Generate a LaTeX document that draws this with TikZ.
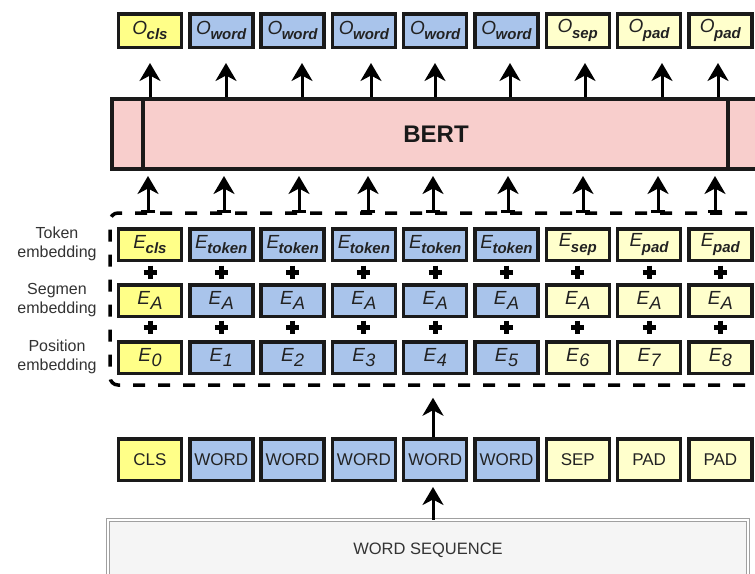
\documentclass[tikz,border=0pt]{standalone}
\usepackage{fontspec}
\setmainfont{Liberation Sans}
\usetikzlibrary{arrows.meta}
\definecolor{clsY}{HTML}{FFFF88}
\definecolor{wordB}{HTML}{A9C4EB}
\definecolor{padY}{HTML}{FFFFCC}
\definecolor{bertP}{HTML}{F8CECC}
\definecolor{seqF}{HTML}{F5F5F5}
\definecolor{seqD}{HTML}{A0A0A0}
\definecolor{txt}{HTML}{222222}
\definecolor{labc}{HTML}{333333}
\definecolor{boxK}{HTML}{1A1A1A}
\newcommand{\msz}{\fontsize{19}{20}\selectfont}
\newcommand{\Lsub}[2]{{\msz\itshape #1}\kern-0.5pt\raisebox{-5.5pt}{\fontsize{15}{15}\selectfont\bfseries\itshape #2}}
\newcommand{\Lnum}[2]{{\msz\itshape #1}\kern0.5pt\raisebox{-5.5pt}{\fontsize{18}{18}\selectfont\itshape #2}}
\begin{document}
\begin{tikzpicture}[x=1pt,y=-1pt,
  cbox/.style={draw=boxK, line width=3.5pt, minimum width=63pt, inner sep=0pt, text=txt},
  obox/.style={cbox, minimum height=33.5pt},
  ebox/.style={cbox, minimum height=31.5pt},
  wbox/.style={cbox, minimum height=41.5pt, font=\fontsize{17}{19}\selectfont},
  bertbox/.style={draw=boxK, line width=4pt, fill=bertP, minimum width=648pt, minimum height=70pt, inner sep=0pt, font=\fontsize{24}{27}\selectfont\bfseries, text=black!90},
  embbox/.style={draw=black, line width=3.5pt, dash pattern=on 12pt off 13pt, rounded corners=8pt, minimum width=670pt, minimum height=172pt, inner sep=0pt},
  seqbox/.style={draw=seqD, line width=0.9pt, double=white, double distance=1.4pt, fill=seqF, minimum width=640pt, minimum height=60pt, inner sep=0pt, font=\fontsize{16.5}{19}\selectfont, text=labc},
  labnode/.style={align=center, font=\fontsize{16}{18.5}\selectfont, text=labc, inner sep=0pt},
  arr/.style={draw=black, line width=3pt, -{Stealth[length=18pt,width=21pt,inset=5.5pt]}},
  barr/.style={arr, {Bar[width=14pt]}-{Stealth[length=18pt,width=21pt,inset=5.5pt]}},
  plusst/.style={draw=black, line width=5pt}
]
\useasboundingbox (0,0) rectangle (755,573);
\clip (0,0) rectangle (755,573);
\fill[white] (0,0) rectangle (755,573);

\node[bertbox] (bert) at (436,134) {BERT};
\coordinate (vl) at (143,0);
\coordinate (vr) at (728,0);
\draw[line width=3.5pt, boxK] (vl |- bert.north) -- (vl |- bert.south);
\draw[line width=3.5pt, boxK] (vr |- bert.north) -- (vr |- bert.south);

\node[embbox] (emb) at (445,299) {};
\node[seqbox] (seq) at (428,550) {WORD SEQUENCE};

\node[labnode] (lt) at (57,244) {Token\\embedding};
\node[labnode] (ls) at (57,300) {Segmen\\embedding};
\node[labnode] (lp) at (57,357) {Position\\embedding};

\foreach \i/\fc/\os/\es/\bt/\ua/\la in {
  0/clsY/cls/cls/CLS/150/148,
  1/wordB/word/token/WORD/226/224,
  2/wordB/word/token/WORD/302/299,
  3/wordB/word/token/WORD/371/368,
  4/wordB/word/token/WORD/435/433,
  5/wordB/word/token/WORD/510/508,
  6/padY/sep/sep/SEP/585/583,
  7/padY/pad/pad/PAD/662/658,
  8/padY/pad/pad/PAD/718/715}{
  \pgfmathsetmacro\cx{150+71.3*\i}
  \node[obox, fill=\fc] (o\i) at (\cx,30.5) {\Lsub{O}{\os}};
  \node[ebox, fill=\fc] (t\i) at (\cx,244.5) {\Lsub{E}{\es}};
  \node[ebox, fill=\fc] (s\i) at (\cx,300.5) {\Lnum{E}{A}};
  \node[ebox, fill=\fc] (p\i) at (\cx,357.5) {\Lnum{E}{\i}};
  \node[wbox, fill=\fc] (w\i) at (\cx,459.5) {\bt};
  \draw[plusst] (\cx-6.5,272) -- (\cx+6.5,272) (\cx,265.5) -- (\cx,278.5);
  \draw[plusst] (\cx-6.5,327) -- (\cx+6.5,327) (\cx,320.5) -- (\cx,333.5);
  \coordinate (ua\i) at (\ua,0);
  \coordinate (la\i) at (\la,0);
  \draw[arr] (ua\i |- bert.north) -- ([yshift=-14pt]ua\i |- o\i.south);
  \draw[barr] ([yshift=-1.75pt]la\i |- emb.north) -- ([yshift=-5pt]la\i |- bert.south);
}
\coordinate (ba) at (433,0);
\draw[arr] (ba |- w4.north) -- ([yshift=-11pt]ba |- emb.south);
\draw[arr] (ba |- seq.north) -- ([yshift=-5pt]ba |- w4.south);
\end{tikzpicture}
\end{document}
